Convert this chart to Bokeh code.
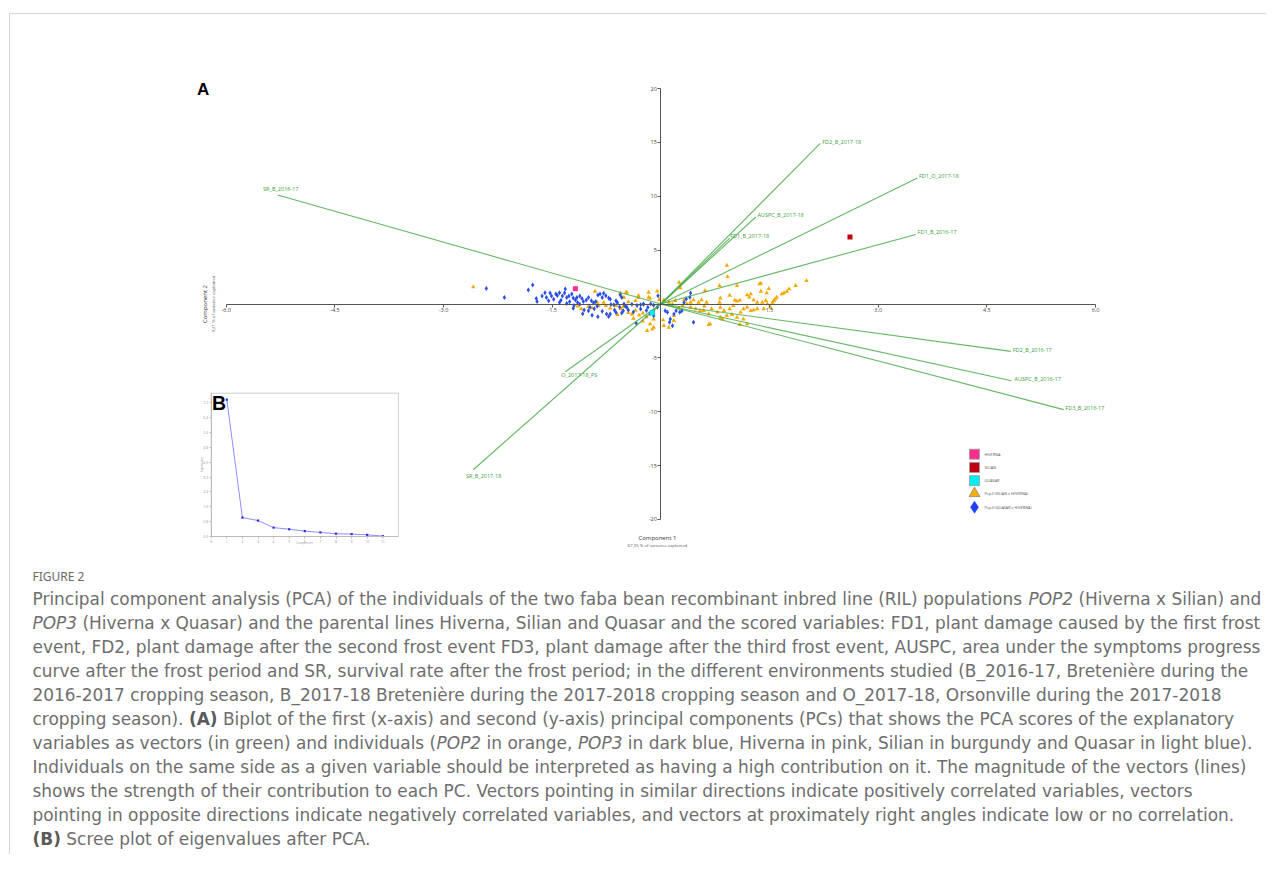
import glob
import os

from bokeh.core.properties import value
from bokeh.embed import file_html
from bokeh.models import ColumnDataSource, FixedTicker, LinearAxis, PrintfTickFormatter, Range1d
from bokeh.plotting import figure
from bokeh.resources import INLINE

# ------------------------------------------------------------------ data
VAR_NAMES = ["SR_B_2016-17", "FD2_B_2017-18", "FD1_O_2017-18", "AUSPC_B_2017-18",
             "FD1_B_2017-18", "FD1_B_2016-17", "FD2_B_2016-17", "AUSPC_B_2016-17",
             "FD3_B_2016-17", "SR_B_2017-18", "O_2017-18_PS"]
VAR_PC1 = [-5.29, 2.20, 3.54, 1.31, 0.95, 3.52, 4.83, 4.84, 5.56, -2.59, -1.32]
VAR_PC2 = [10.12, 14.91, 11.70, 8.08, 6.11, 6.46, -4.40, -7.12, -9.81, -15.39, -6.29]

POP3_PC1 = [-2.41, -2.16, -1.83, -1.77, -1.72, -1.71, -1.64, -1.58, -1.53, -1.51, -1.45, -1.43,
            -1.40, -1.36, -1.33, -1.30, -1.27, -1.23, -1.21, -1.18, -1.16, -1.12, -1.09, -1.07,
            -1.03, -1.00, -0.96, -0.93, -0.90, -0.87, -0.84, -0.81, -0.79, -0.76, -0.72, -0.69,
            -0.65, -0.60, -0.56, -0.54, -0.51, -0.49, -1.21, -1.12, -1.30, -1.06, -1.00, -0.88,
            -0.87, -0.81, -0.75, -0.70, -0.64, -0.57, -0.52, -0.47, -0.40, -0.33, -0.28, -0.24,
            -0.18, -0.14, -0.10, -0.05, -0.34, -0.04, 0.41, 0.40, 0.35, 0.32, 0.29, 0.26,
            0.21, 0.18, 0.13, 0.09, 0.06, 0.12, 0.45, 0.16, -0.10, -0.10, -0.12, -0.28,
            -0.24, -1.48, -1.38, -1.26, -1.15, -1.40, -1.55, -1.20, -0.98, -0.92, -1.08, -0.95,
            -0.62, -0.45, -0.38, -0.20, -0.62, -0.70, -0.15, -1.32, -1.60, -0.72, -0.54, -0.10]
POP3_PC2 = [1.45, 0.61, 1.30, 1.76, 0.52, 0.24, 0.74, 0.61, 1.02, 0.74, 0.93, 0.80,
            1.05, 0.74, 1.02, 0.61, 0.74, 0.93, 0.56, 0.37, 0.61, 0.74, 0.52, 0.24,
            0.37, 0.61, 0.30, 0.12, 0.24, 0.83, 0.93, 0.61, 0.99, 0.77, 0.56, -0.04,
            -0.06, 0.12, 0.83, 0.61, 0.01, -0.22, -0.40, -0.02, 0.05, -0.56, -0.62, -0.22,
            -1.18, -0.68, -0.93, -0.93, -0.56, -0.28, -0.62, -0.31, -0.02, -0.15, -0.46, -0.02,
            -0.31, 0.00, -0.12, -0.31, -1.79, 0.77, 1.02, 0.62, 0.47, 0.15, -0.62, -0.77,
            -0.62, -0.93, -1.40, -0.77, -0.62, -1.70, -1.70, -2.01, -0.93, -0.62, -0.77, -0.07,
            0.00, 0.45, 0.35, 0.20, 0.15, 0.15, 0.30, -0.15, -0.30, -0.45, -0.90, -1.05,
            -0.80, -0.55, -0.75, -0.60, 0.30, 0.45, -0.90, 1.40, 1.05, -1.15, -0.84, -1.09]

POP2_PC1 = [-2.59, -0.91, -0.88, -1.00, -0.95, -0.56, -0.48, -0.31, -0.17, -0.17, -0.19, -0.12,
            -0.10, -0.86, -0.79, -0.76, -0.51, -0.47, -0.31, -0.15, -1.15, -1.10, -0.70, -0.62,
            -0.55, -0.45, -0.40, -0.35, -0.30, -0.25, -0.20, -0.38, -0.25, -0.45, -0.35, -0.05,
            -0.02, -0.60, -0.15, -0.10, 0.04, 0.11, -0.52,
            0.91, 0.92, 0.25, 0.27, 0.61, 0.81, 1.05, 1.36, 1.38, 1.49, 1.46, 2.01,
            1.86, 1.77, 1.74, 1.70, 1.67, 1.60, 1.58, 1.56, 1.54, 0.95, 0.82, 0.81,
            1.02, 1.05, 1.09, 1.19, 1.24, 1.22, 1.28, 1.33, 1.40, 1.45, 0.63, 0.56,
            0.52, 0.45, 0.41, 0.36, 0.32, 0.20, 0.16, 0.11, 0.04, 1.38,
            0.41, 0.48, 0.54, 0.59, 0.66, 0.78, 0.82, 0.87, 0.91, 0.98, 1.05, 1.10,
            1.14, 1.19, 1.24, 1.28, 1.33, 1.42, 1.47, 1.51, 0.85, 1.14, 1.19, 0.68,
            0.18, 0.66, 1.09, 0.03, 0.18, 0.82, 0.30, 0.25, 0.60, 0.70, 1.00, 0.95]
POP2_PC2 = [1.58, 1.17, 0.15, -0.25, -0.37, 1.02, 1.08, 0.77, 1.08, 0.61, -2.48, -2.33,
            -1.40, -0.16, 0.15, -0.16, 0.61, 1.08, 0.61, 0.53, -0.20, -0.45, -0.40, -0.15,
            -0.45, -0.80, -0.95, -0.60, -1.05, -0.85, -1.20, -1.35, -1.60, 0.20, 0.30, 1.20,
            0.40, -1.00, -1.85, -2.17, -2.01, -2.17, -0.25,
            3.59, 2.53, 2.01, 1.48, 1.24, 1.70, 1.70, 1.85, 1.17, 1.42, 1.02, 2.16,
            1.70, 1.39, 1.17, 1.02, 0.93, 0.62, 0.47, 0.31, 0.15, 0.80, 0.55, 0.15,
            0.35, 0.25, 0.35, 0.83, 0.93, 0.62, 0.37, 0.15, 0.15, 0.31, 0.15, 0.37,
            0.15, 0.37, 0.15, 0.00, 0.37, 0.31, 0.00, 0.15, 0.37, 1.91,
            -0.31, -0.46, -0.62, -0.62, -0.93, -0.77, -0.31, -0.62, -1.08, -0.99, -1.24, -0.77,
            -0.46, -0.31, -0.62, -0.56, -0.46, -0.46, 0.00, -0.31, -1.40, -1.40, -1.86, -1.86,
            -1.55, -1.92, -1.92, -1.49, -1.09, -1.24, -0.15, -0.40, -0.20, -0.45, -0.15, -0.45]

PARENT_NAMES = ["HIVERNA", "SILIAN", "QUASAR"]
PARENT_PC1 = [-1.18, 2.61, -0.12]
PARENT_PC2 = [1.42, 6.22, -0.81]

EIGEN_COMPONENT = [1, 2, 3, 4, 5, 6, 7, 8, 9, 10, 11]
EIGENVALUES = [7.38, 1.02, 0.86, 0.48, 0.39, 0.29, 0.22, 0.15, 0.13, 0.09, 0.02]

X_TICKS = [-6.0, -4.5, -3.0, -1.5, 1.5, 3.0, 4.5, 6.0]
Y_TICKS = [-20, -15, -10, -5, 5, 10, 15, 20]
SCREE_X_TICKS = [0, 1, 2, 3, 4, 5, 6, 7, 8, 9, 10, 11]
SCREE_Y_TICKS = [0.0, 0.8, 1.6, 2.4, 3.2, 4.0, 4.8, 5.6, 6.4, 7.2]

LEGEND_LABELS = ["HIVERNA", "SILIAN", "QUASAR", "Pop2 (SILIAN x HIVERNA)", "Pop3 (QUASAR x HIVERNA)"]

CAPTION_TITLE = "FIGURE 2"
CAPTION_LINES = [
    [("r", "Principal component analysis (PCA) of the individuals of the two faba bean recombinant inbred line (RIL) populations "), ("i", "POP2"), ("r", " (Hiverna x Silian) and")],
    [("i", "POP3"), ("r", " (Hiverna x Quasar) and the parental lines Hiverna, Silian and Quasar and the scored variables: FD1, plant damage caused by the first frost")],
    [("r", "event, FD2, plant damage after the second frost event FD3, plant damage after the third frost event, AUSPC, area under the symptoms progress")],
    [("r", "curve after the frost period and SR, survival rate after the frost period; in the different environments studied (B_2016-17, Bretenière during the")],
    [("r", "2016-2017 cropping season, B_2017-18 Bretenière during the 2017-2018 cropping season and O_2017-18, Orsonville during the 2017-2018")],
    [("r", "cropping season). "), ("b", "(A)"), ("r", " Biplot of the first (x-axis) and second (y-axis) principal components (PCs) that shows the PCA scores of the explanatory")],
    [("r", "variables as vectors (in green) and individuals ("), ("i", "POP2"), ("r", " in orange, "), ("i", "POP3"), ("r", " in dark blue, Hiverna in pink, Silian in burgundy and Quasar in light blue).")],
    [("r", "Individuals on the same side as a given variable should be interpreted as having a high contribution on it. The magnitude of the vectors (lines)")],
    [("r", "shows the strength of their contribution to each PC. Vectors pointing in similar directions indicate positively correlated variables, vectors")],
    [("r", "pointing in opposite directions indicate negatively correlated variables, and vectors at proximately right angles indicate low or no correlation.")],
    [("b", "(B)"), ("r", " Scree plot of eigenvalues after PCA.")],
]

# ------------------------------------------------------------------ layout (page pixels)
W, H = 1266, 854
M = 0                          # canvas origin on the photographed page
X0_PX, XS = 660.4, 72.44      # main biplot: page x of PC1 = 0, px per unit
Y0_PX, YS = 303.5, 10.77      # page y of PC2 = 0, px per unit
SX0_PX, SXS = 210.7, 15.6     # scree inset
SY0_PX, SYS = 536.0, 18.56
SCREE_BOX_W = 12.0
SCREE_BOX_H = (SY0_PX - 392.7) / SYS

VAR_LABEL_DX = [-14.6, 2, 1.6, 1.6, 0.5, 1.7, 2, 3, 1.7, -7.4, -4]
VAR_LABEL_DY = [-6, -1, -2.3, -2, -2, -2, -1.4, -1.3, -1.3, 6.7, 3.7]

p = figure(width=W, height=H,
           x_range=Range1d((M - X0_PX) / XS, (M + W - X0_PX) / XS),
           y_range=Range1d((Y0_PX - (M + H)) / YS, (Y0_PX - M) / YS),
           output_backend="svg", toolbar_location=None, min_border=0,
           x_axis_type=None, y_axis_type=None, outline_line_color=None,
           background_fill_color="white", border_fill_color="white")
p.extra_x_ranges = {"sx": Range1d((M - SX0_PX) / SXS, (M + W - SX0_PX) / SXS),
                    "px": Range1d(M, M + W)}
p.extra_y_ranges = {"sy": Range1d((SY0_PX - (M + H)) / SYS, (SY0_PX - M) / SYS),
                    "py": Range1d(M + H, M)}

AX_COLOR = "#555555"


def style_axis(ax, size):
    ax.axis_line_color = AX_COLOR
    ax.major_tick_line_color = AX_COLOR
    ax.minor_tick_line_color = None
    ax.major_label_text_color = "#444444"
    ax.major_label_text_font = "Open Sans"
    ax.major_label_text_font_size = size


# main axes through the origin
xax = LinearAxis(fixed_location=0, bounds=(-6, 6),
                 ticker=FixedTicker(ticks=X_TICKS, minor_ticks=[]),
                 formatter=PrintfTickFormatter(format="%.1f"))
style_axis(xax, "5.5px")
xax.major_tick_out = 3
xax.major_tick_in = 0
xax.major_label_standoff = 1
p.add_layout(xax, "below")

yax = LinearAxis(fixed_location=0, bounds=(-20, 20),
                 ticker=FixedTicker(ticks=Y_TICKS, minor_ticks=[]),
                 formatter=PrintfTickFormatter(format="%d"))
style_axis(yax, "5.5px")
yax.major_tick_out = 3
yax.major_tick_in = 0
yax.major_label_standoff = 1
p.add_layout(yax, "left")

# individuals
p.scatter(POP2_PC1, POP2_PC2, marker="triangle", size=4.5, fill_color="#f5a800", line_color=None)
p.scatter(POP3_PC1, POP3_PC2, marker="diamond", size=5, fill_color="#2b4fe6", line_color=None)

# variable vectors
vsrc = ColumnDataSource(dict(x=VAR_PC1, y=VAR_PC2, name=VAR_NAMES, dx=VAR_LABEL_DX, dy=VAR_LABEL_DY))
p.segment(x0=0, y0=0, x1="x", y1="y", source=vsrc, line_color="#3fa63f", line_alpha=0.8, line_width=1.1)
p.text(x="x", y="y", text="name", x_offset="dx", y_offset="dy", source=vsrc,
       text_font=value("Open Sans"), text_font_size="5.5px", text_color="#3d9e3d",
       text_align="left", text_baseline="middle")

# parental lines
PARENT_COLORS = ["#ff2d8e", "#c00010", "#00f0f0"]
p.scatter(PARENT_PC1, PARENT_PC2, marker="square", size=5, fill_color=PARENT_COLORS, line_color=None)

# ------------------------------------------------------------------ scree inset (B)
p.quad(left=[0], right=[SCREE_BOX_W], bottom=[0], top=[SCREE_BOX_H], x_range_name="sx", y_range_name="sy",
       fill_color="white", line_color="#cfcfcf", line_width=1)
sxax = LinearAxis(x_range_name="sx", y_range_name="sy", fixed_location=0, bounds=(0, SCREE_BOX_W),
                  ticker=FixedTicker(ticks=SCREE_X_TICKS, minor_ticks=[]))
style_axis(sxax, "3.5px")
sxax.axis_line_color = "#bbbbbb"
sxax.major_tick_line_color = "#bbbbbb"
sxax.major_label_text_color = "#999999"
sxax.major_tick_out = 2
sxax.major_tick_in = 0
sxax.major_label_standoff = 1
p.add_layout(sxax, "below")
syax = LinearAxis(x_range_name="sx", y_range_name="sy", fixed_location=0, bounds=(0, SCREE_BOX_H),
                  ticker=FixedTicker(ticks=SCREE_Y_TICKS, minor_ticks=[]),
                  formatter=PrintfTickFormatter(format="%.1f"))
style_axis(syax, "3.5px")
syax.axis_line_color = "#bbbbbb"
syax.major_tick_line_color = "#bbbbbb"
syax.major_label_text_color = "#999999"
syax.major_tick_out = 2
syax.major_tick_in = 0
syax.major_label_standoff = 1
p.add_layout(syax, "left")
p.line(EIGEN_COMPONENT, EIGENVALUES, x_range_name="sx", y_range_name="sy", line_color="#7070ff", line_width=0.8)
p.scatter(EIGEN_COMPONENT, EIGENVALUES, x_range_name="sx", y_range_name="sy", marker="square", size=2.2,
          fill_color="#3030e0", line_color=None)


# ------------------------------------------------------------------ annotations in page pixels
def ptext(x, y, t, size, color="#333333", font="Open Sans", style="normal", align="left", angle=0.0):
    p.text(x=[x], y=[y], text=[t], x_range_name="px", y_range_name="py", text_font=value(font),
           text_font_size=size, text_font_style=style, text_color=color, text_align=align,
           text_baseline="middle", angle=angle)


# page frame lines
p.segment(x0=[9, 9], y0=[13, 13], x1=[M + W, 9], y1=[13, M + H], x_range_name="px", y_range_name="py",
          line_color="#d4d4d4", line_width=1)

ptext(196.5, 89, "A", "17px", "black", "Liberation Sans", "bold")
ptext(211.5, 402.5, "B", "19.5px", "black", "Liberation Sans", "bold")

ptext(657, 537, "Component 1", "6px", "#333333", align="center")
ptext(657, 544.5, "67,05 % of variance explained", "4.3px", "#555555", align="center")
ptext(204.5, 303.5, "Component 2", "6px", "#333333", align="center", angle=1.5708)
ptext(212.5, 303.5, "9,21 % of variance explained", "4.3px", "#555555", align="center", angle=1.5708)
ptext(304, 542.5, "Component", "3px", "#999999", align="center")
ptext(201.5, 464, "Eigenvalue", "3px", "#999999", align="center", angle=1.5708)

# legend
LEG_X, LEG_Y0, LEG_DY = 974, 453.7, 13.25
leg_y = [LEG_Y0 + i * LEG_DY for i in range(5)]
p.scatter(x=[LEG_X] * 3, y=leg_y[:3], x_range_name="px", y_range_name="py", marker="square", size=10,
          fill_color=PARENT_COLORS, line_color="#9a9a9a", line_width=0.8)
p.scatter(x=[LEG_X], y=[leg_y[3] - 0.5], x_range_name="px", y_range_name="py", marker="triangle", size=11,
          fill_color="#f5b000", line_color="#8a8a8a", line_width=0.8)
p.scatter(x=[LEG_X], y=[leg_y[4]], x_range_name="px", y_range_name="py", marker="diamond", size=12,
          fill_color="#1f3ff0", line_color="#1f3ff0", line_width=0.5)
p.text(x=[LEG_X + 10] * 5, y=leg_y, text=LEGEND_LABELS, x_range_name="px", y_range_name="py",
       text_font=value("Open Sans"), text_font_size="3.8px", text_color="#555555",
       text_align="left", text_baseline="middle")


# ------------------------------------------------------------------ caption
def find_font(pattern):
    for root in ["/usr/share/fonts", "/usr/local/share/fonts", os.path.expanduser("~/.fonts"),
                 os.path.expanduser("~/.local/share/fonts")]:
        hits = sorted(glob.glob(os.path.join(root, "**", pattern), recursive=True))
        if hits:
            return hits[0]
    return None


CAP_FAMILY = "DejaVu Sans"
FONT_FILES = {"r": None, "i": None, "b": None}
for fam, pats in [("DejaVu Sans", ("DejaVuSans.ttf", "DejaVuSans-Oblique.ttf", "DejaVuSans-Bold.ttf")),
                  ("Noto Sans", ("NotoSans-Regular.ttf", "NotoSans-Italic.ttf", "NotoSans-Bold.ttf"))]:
    reg = find_font(pats[0])
    if reg:
        CAP_FAMILY = fam
        FONT_FILES = {"r": reg, "i": find_font(pats[1]) or reg, "b": find_font(pats[2]) or reg}
        break

_cache = {}


def width(s, style, size):
    path = FONT_FILES.get(style)
    if path:
        try:
            from PIL import ImageFont
            if path not in _cache:
                _cache[path] = ImageFont.truetype(path, 200)
            return _cache[path].getlength(s) * size / 200.0
        except Exception:
            pass
    return len(s) * 0.56 * size


CAP_X, CAP_Y0, CAP_DY, CAP_LINE1_W = 32.0, 598.0, 24.0, 1229.0
w1 = sum(width(t, st, 1.0) for st, t in CAPTION_LINES[0])
cap_size = max(12.0, min(18.0, CAP_LINE1_W / w1))

segs = {"r": dict(x=[], y=[], text=[]), "i": dict(x=[], y=[], text=[]), "b": dict(x=[], y=[], text=[])}
for li, line in enumerate(CAPTION_LINES):
    cx = CAP_X
    for st, t in line:
        lead = len(t) - len(t.lstrip(" "))
        segs[st]["x"].append(cx + width(" " * lead, "r", cap_size) if lead else cx)
        segs[st]["y"].append(CAP_Y0 + li * CAP_DY)
        segs[st]["text"].append(t.strip(" "))
        cx += width(t, st, cap_size)

CAP_COLOR = "#6e6e6e"
for st, fstyle in [("r", "normal"), ("i", "italic"), ("b", "bold")]:
    if segs[st]["text"]:
        p.text(x="x", y="y", text="text", source=ColumnDataSource(segs[st]), x_range_name="px",
               y_range_name="py", text_font=value(CAP_FAMILY), text_font_size=f"{cap_size:.2f}px",
               text_font_style=fstyle, text_color=CAP_COLOR if st != "b" else "#5a5a5a",
               text_align="left", text_baseline="middle")

ptext(CAP_X, 575.5, CAPTION_TITLE, "12px", "#6a6a6a", "Noto Sans", "normal")

open("out.html", "w").write(file_html(p, INLINE))
